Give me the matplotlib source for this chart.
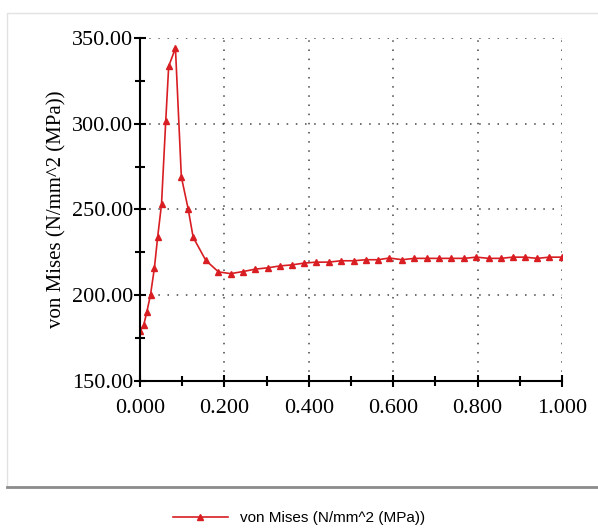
import matplotlib
matplotlib.use("Agg")
import matplotlib.pyplot as plt
from matplotlib.patches import Rectangle
from matplotlib.lines import Line2D
from matplotlib.ticker import MultipleLocator, FormatStrFormatter

# datos
tiempo = [0.000, 0.009, 0.016, 0.025, 0.034, 0.042, 0.051, 0.061, 0.068, 0.084,
          0.098, 0.114, 0.126, 0.156, 0.186, 0.215, 0.244, 0.273, 0.303, 0.332,
          0.360, 0.388, 0.417, 0.447, 0.476, 0.506, 0.535, 0.564, 0.591, 0.621,
          0.650, 0.679, 0.708, 0.738, 0.768, 0.797, 0.827, 0.855, 0.883, 0.912,
          0.941, 0.970, 1.000]
von_mises = [178.9, 182.8, 190.0, 200.4, 215.6, 234.2, 253.1, 301.5, 333.5, 344.1,
             269.0, 250.5, 233.8, 220.3, 213.6, 212.6, 213.8, 215.2, 216.0, 217.1,
             217.7, 218.7, 219.3, 219.3, 220.1, 220.1, 220.7, 220.7, 221.7, 220.7,
             221.5, 221.5, 221.5, 221.5, 221.5, 222.2, 221.5, 221.5, 222.2, 222.2,
             221.5, 222.2, 222.2]
etiqueta = 'von Mises (N/mm^2 (MPa))'

fig = plt.figure(figsize=(5.98, 5.29), dpi=100)

# marco gris del grafico
fig.add_artist(Rectangle((0.0117, 0.0794), 1.0, 0.896, transform=fig.transFigure,
                         facecolor='none', edgecolor='#e2e2e2', lw=1.0))
fig.add_artist(Line2D([0.0117, 1.0], [0.0794, 0.0794], transform=fig.transFigure,
                      color='#8c8c8c', lw=2.0))

ax = fig.add_axes([0.2341, 0.2798, 0.7057, 0.6484])
ax.plot(tiempo, von_mises, color='#d81e22', lw=1.2, marker='^', markersize=5,
        markeredgecolor='#d81e22', label=etiqueta)

ax.set_xlim(0, 1.0)
ax.set_ylim(150, 350)
ax.xaxis.set_major_locator(MultipleLocator(0.2))
ax.xaxis.set_minor_locator(MultipleLocator(0.1))
ax.yaxis.set_major_locator(MultipleLocator(50))
ax.yaxis.set_minor_locator(MultipleLocator(25))
ax.xaxis.set_major_formatter(FormatStrFormatter('%.3f'))
ax.yaxis.set_major_formatter(FormatStrFormatter('%.2f'))

ax.grid(True, which='major', color='#444444', linestyle=(0, (1, 5)), lw=1.1)
for s in ['top', 'right']:
    ax.spines[s].set_visible(False)
for s in ['left', 'bottom']:
    ax.spines[s].set_linewidth(1.5)

ax.tick_params(which='both', direction='inout', width=1.5, labelsize=16)
ax.tick_params(which='major', length=8)
ax.tick_params(which='minor', length=7)
ax.tick_params(axis='y', pad=1)
ax.tick_params(axis='x', pad=9)
for lab in ax.get_xticklabels() + ax.get_yticklabels():
    lab.set_family('Liberation Serif')

ax.set_ylabel(etiqueta, family='Liberation Serif', fontsize=15, labelpad=4)

fig.legend(loc='center', bbox_to_anchor=(0.50, 0.02), frameon=False, numpoints=1,
           handlelength=3.6, prop={'family': 'Liberation Sans', 'size': 11})

fig.savefig('out.png', dpi=100)
